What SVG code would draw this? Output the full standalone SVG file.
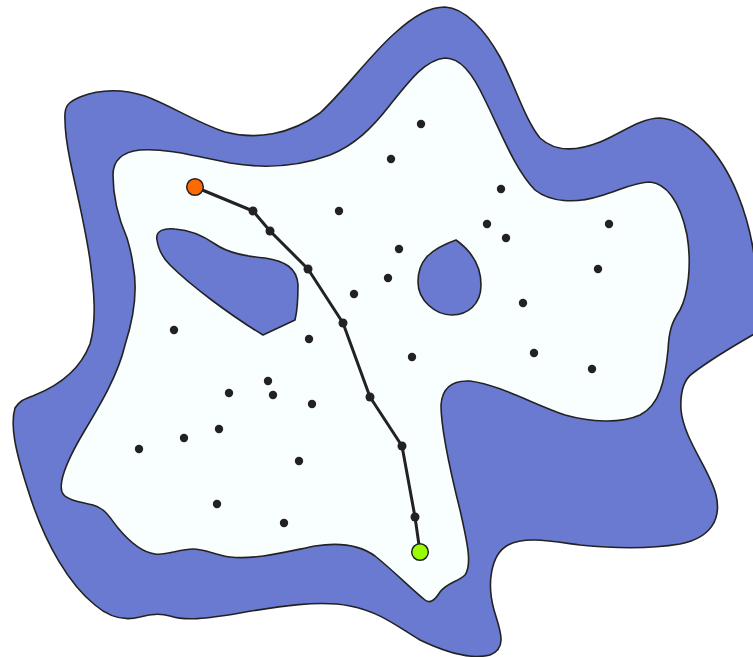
<svg xmlns="http://www.w3.org/2000/svg" width="753" height="657" viewBox="0 0 753 657">
<style>
.obs{fill:#6a7ad0;stroke:#222;stroke-width:1.6;stroke-linejoin:round}
.free{fill:#f9feff;stroke:#222;stroke-width:1.6;stroke-linejoin:round}
.pt{fill:#222}
.wp{fill:#222}
.edge{fill:none;stroke:#222;stroke-width:3;stroke-linecap:round;stroke-linejoin:round}
.end{stroke:#222;stroke-width:1.5}
</style>
<rect width="753" height="657" fill="#ffffff"/>
<g id="regions">
<path id="outer" class="obs" d="M 65,120 C 64,106 68,102 80,97 C 100,89 120,88 145,96 C 170,105 195,122 225,132 C 255,140 290,135 320,113 C 345,90 370,55 395,33 C 415,15 430,7 445,7 C 465,8 485,30 500,57 C 515,85 525,120 540,138 C 555,152 575,152 600,142 C 620,134 640,118 660,118 C 690,120 720,150 738,195 C 752,230 757,265 756,290 L 756,333 C 735,345 710,360 693,373 C 683,380 680,392 681,410 C 684,440 710,470 716,495 C 722,520 710,538 680,544 C 650,549 610,548 580,545 C 550,541 525,536 508,545 C 490,555 487,585 494,610 C 500,630 508,648 490,655 C 470,660 445,652 420,640 C 395,625 380,612 350,606 C 320,600 280,606 240,613 C 205,619 185,621 170,616 C 160,613 150,614 140,617 C 125,621 110,618 95,605 C 70,585 45,545 28,490 C 15,450 10,425 15,408 C 20,400 25,399 35,395 C 60,385 80,370 90,344 C 97,320 94,290 90,260 C 85,225 76,190 70,160 C 66,140 65,130 65,120 Z"/>
<path id="free-space" class="free" d="M 113,175 C 113,160 122,152 140,150 C 165,148 195,156 230,163 C 265,169 300,166 330,155 C 355,145 372,128 390,105 C 410,80 425,60 445,58 C 460,58 472,72 485,100 C 500,130 515,170 535,190 C 550,202 575,204 600,196 C 620,190 635,182 650,182 C 665,183 680,200 687,235 C 692,265 688,295 680,310 C 672,322 669,330 668,350 C 665,380 660,405 640,415 C 620,424 590,422 565,415 C 535,405 500,385 470,381 C 450,380 442,390 441,405 C 441,430 450,470 460,510 C 468,545 472,565 465,575 C 458,582 448,582 440,592 C 435,600 430,604 425,600 C 410,588 395,572 375,556 C 360,545 340,542 315,546 C 285,552 255,560 230,557 C 215,555 205,549 193,549 C 180,549 165,556 155,554 C 140,552 128,540 118,528 C 110,518 105,508 93,505 C 80,502 65,500 62,492 C 58,480 70,455 85,430 C 100,405 118,375 125,345 C 133,320 138,290 133,265 C 131,250 128,242 127,238 C 120,222 113,200 113,175 Z"/>
<path id="hole-left" class="obs" d="M 157,240 C 155,230 165,228 175,229 C 190,230 205,237 215,244 C 228,253 245,256 265,258 C 285,261 297,268 298,285 C 298,300 297,312 295,320 L 263,335 C 230,315 190,285 170,265 C 160,255 158,247 157,240 Z"/>
<path id="hole-right" class="obs" d="M 456,240 C 470,250 481,265 481,285 C 481,305 467,315 452,315 C 435,315 418,300 418,282 C 418,262 428,250 456,240 Z"/>
</g>
<g id="samples">
<circle class="pt" cx="421" cy="124" r="4.2"/>
<circle class="pt" cx="391" cy="159" r="4.2"/>
<circle class="pt" cx="501" cy="189" r="4.2"/>
<circle class="pt" cx="339" cy="211" r="4.2"/>
<circle class="pt" cx="487" cy="224" r="4.2"/>
<circle class="pt" cx="506" cy="238" r="4.2"/>
<circle class="pt" cx="609" cy="224" r="4.2"/>
<circle class="pt" cx="399" cy="249" r="4.2"/>
<circle class="pt" cx="388" cy="278" r="4.2"/>
<circle class="pt" cx="598" cy="269" r="4.2"/>
<circle class="pt" cx="354" cy="294" r="4.2"/>
<circle class="pt" cx="523" cy="303" r="4.2"/>
<circle class="pt" cx="174" cy="330" r="4.2"/>
<circle class="pt" cx="309" cy="339" r="4.2"/>
<circle class="pt" cx="412" cy="357" r="4.2"/>
<circle class="pt" cx="534" cy="353" r="4.2"/>
<circle class="pt" cx="592" cy="369" r="4.2"/>
<circle class="pt" cx="268" cy="381" r="4.2"/>
<circle class="pt" cx="229" cy="393" r="4.2"/>
<circle class="pt" cx="273" cy="395" r="4.2"/>
<circle class="pt" cx="312" cy="404" r="4.2"/>
<circle class="pt" cx="219" cy="429" r="4.2"/>
<circle class="pt" cx="184" cy="438" r="4.2"/>
<circle class="pt" cx="139" cy="449" r="4.2"/>
<circle class="pt" cx="299" cy="461" r="4.2"/>
<circle class="pt" cx="217" cy="504" r="4.2"/>
<circle class="pt" cx="284" cy="523" r="4.2"/>
</g>
<g id="connectors">
<polyline class="edge" points="195,187 253,211 270,231 308,269 343,323 370,397 402,446 415,517 420,552"/>
</g>
<g id="n1"><circle class="wp" cx="253" cy="211" r="4.5"/></g>
<g id="n2"><circle class="wp" cx="270" cy="231" r="4.5"/></g>
<g id="n3"><circle class="wp" cx="308" cy="269" r="4.5"/></g>
<g id="n4"><circle class="wp" cx="343" cy="323" r="4.5"/></g>
<g id="n5"><circle class="wp" cx="370" cy="397" r="4.5"/></g>
<g id="n6"><circle class="wp" cx="402" cy="446" r="4.5"/></g>
<g id="n7"><circle class="wp" cx="415" cy="517" r="4.5"/></g>
<g id="start"><circle class="end" cx="195" cy="187" r="8.3" fill="#ff6a00"/></g>
<g id="goal"><circle class="end" cx="420" cy="552" r="8.3" fill="#99ff00"/></g>
</svg>
